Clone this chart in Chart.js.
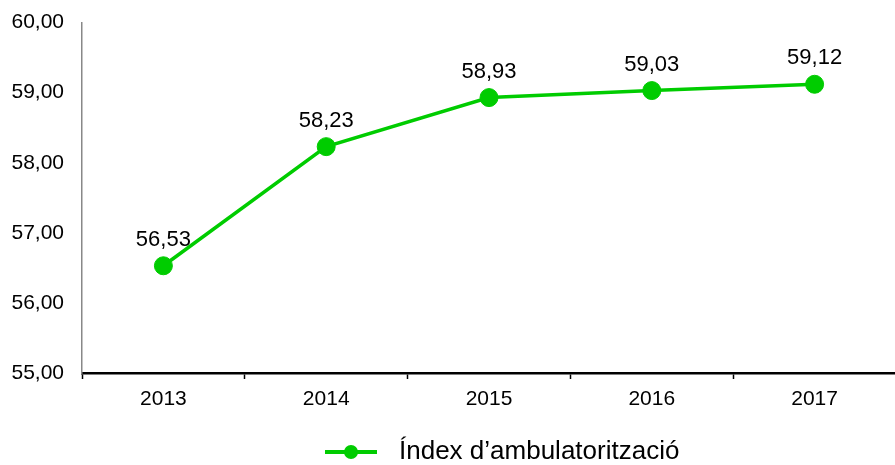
<!DOCTYPE html>
<html>
<head>
<meta charset="utf-8">
<script src="https://cdn.jsdelivr.net/npm/chart.js@4.4.1/dist/chart.umd.min.js"></script>
<style>
  html, body { margin: 0; padding: 0; background: #fff; overflow: hidden; }
  #wrap { position: relative; width: 906px; height: 465px; }
</style>
</head>
<body>
<div id="wrap"><canvas id="chart"></canvas></div>
<script>
// chart data
const years = ['2013', '2014', '2015', '2016', '2017'];
const indexValues = [56.53, 58.23, 58.93, 59.03, 59.12];
const seriesLabel = 'Índex d’ambulatorització';
const yMin = 55, yMax = 60;

const GREEN = '#00CC00';
const FONT = "'Liberation Sans', Arial, sans-serif";

const fmt = v => v.toFixed(2).replace('.', ',');

// value labels above each point
const valueLabels = {
  id: 'valueLabels',
  afterDatasetsDraw(chart) {
    const ctx = chart.ctx;
    const meta = chart.getDatasetMeta(0);
    ctx.save();
    ctx.font = '22px ' + FONT;
    ctx.fillStyle = '#000';
    ctx.textAlign = 'center';
    ctx.textBaseline = 'middle';
    meta.data.forEach((pt, i) => {
      ctx.fillText(fmt(chart.data.datasets[0].data[i]), pt.x, pt.y - 26);
    });
    ctx.restore();
  }
};

// legend at the bottom
const bottomLegend = {
  id: 'bottomLegend',
  afterDraw(chart) {
    const ctx = chart.ctx;
    const y = 452;
    ctx.save();
    ctx.strokeStyle = GREEN;
    ctx.lineWidth = 4;
    ctx.beginPath();
    ctx.moveTo(325, y);
    ctx.lineTo(377, y);
    ctx.stroke();
    ctx.fillStyle = GREEN;
    ctx.beginPath();
    ctx.arc(351, y, 7, 0, Math.PI * 2);
    ctx.fill();
    ctx.fillStyle = '#000';
    ctx.font = '26px ' + FONT;
    ctx.textAlign = 'left';
    ctx.textBaseline = 'middle';
    ctx.fillText(chart.data.datasets[0].label, 399, y);
    ctx.restore();
  }
};

new Chart(document.getElementById('chart'), {
  type: 'line',
  data: {
    labels: years,
    datasets: [{
      label: seriesLabel,
      data: indexValues,
      borderColor: GREEN,
      backgroundColor: GREEN,
      borderWidth: 3.5,
      pointRadius: 9,
      pointHoverRadius: 9,
      pointBackgroundColor: GREEN,
      pointBorderColor: GREEN,
      pointBorderWidth: 1,
      tension: 0
    }]
  },
  options: {
    responsive: true,
    maintainAspectRatio: false,
    animation: false,
    layout: { padding: { top: 16, right: 0, left: 0, bottom: 0 } },
    plugins: {
      legend: { display: false },
      tooltip: { enabled: false }
    },
    scales: {
      x: {
        offset: true,
        grid: {
          display: true,
          drawOnChartArea: false,
          offset: true,
          tickLength: 6,
          tickWidth: 1.5,
          tickColor: '#000'
        },
        border: { display: true, color: '#000', width: 2.5 },
        ticks: {
          color: '#000',
          padding: 8,
          font: { family: FONT, size: 21 }
        },
        afterFit(scale) { scale.height = 92; }
      },
      y: {
        min: yMin,
        max: yMax,
        grid: { display: false },
        border: { display: true, color: '#888', width: 1.5 },
        ticks: {
          stepSize: 1,
          color: '#000',
          padding: 10,
          font: { family: FONT, size: 21 },
          callback: v => fmt(v)
        },
        afterFit(scale) { scale.width = 82; }
      }
    }
  },
  plugins: [valueLabels, bottomLegend]
});
</script>
</body>
</html>
